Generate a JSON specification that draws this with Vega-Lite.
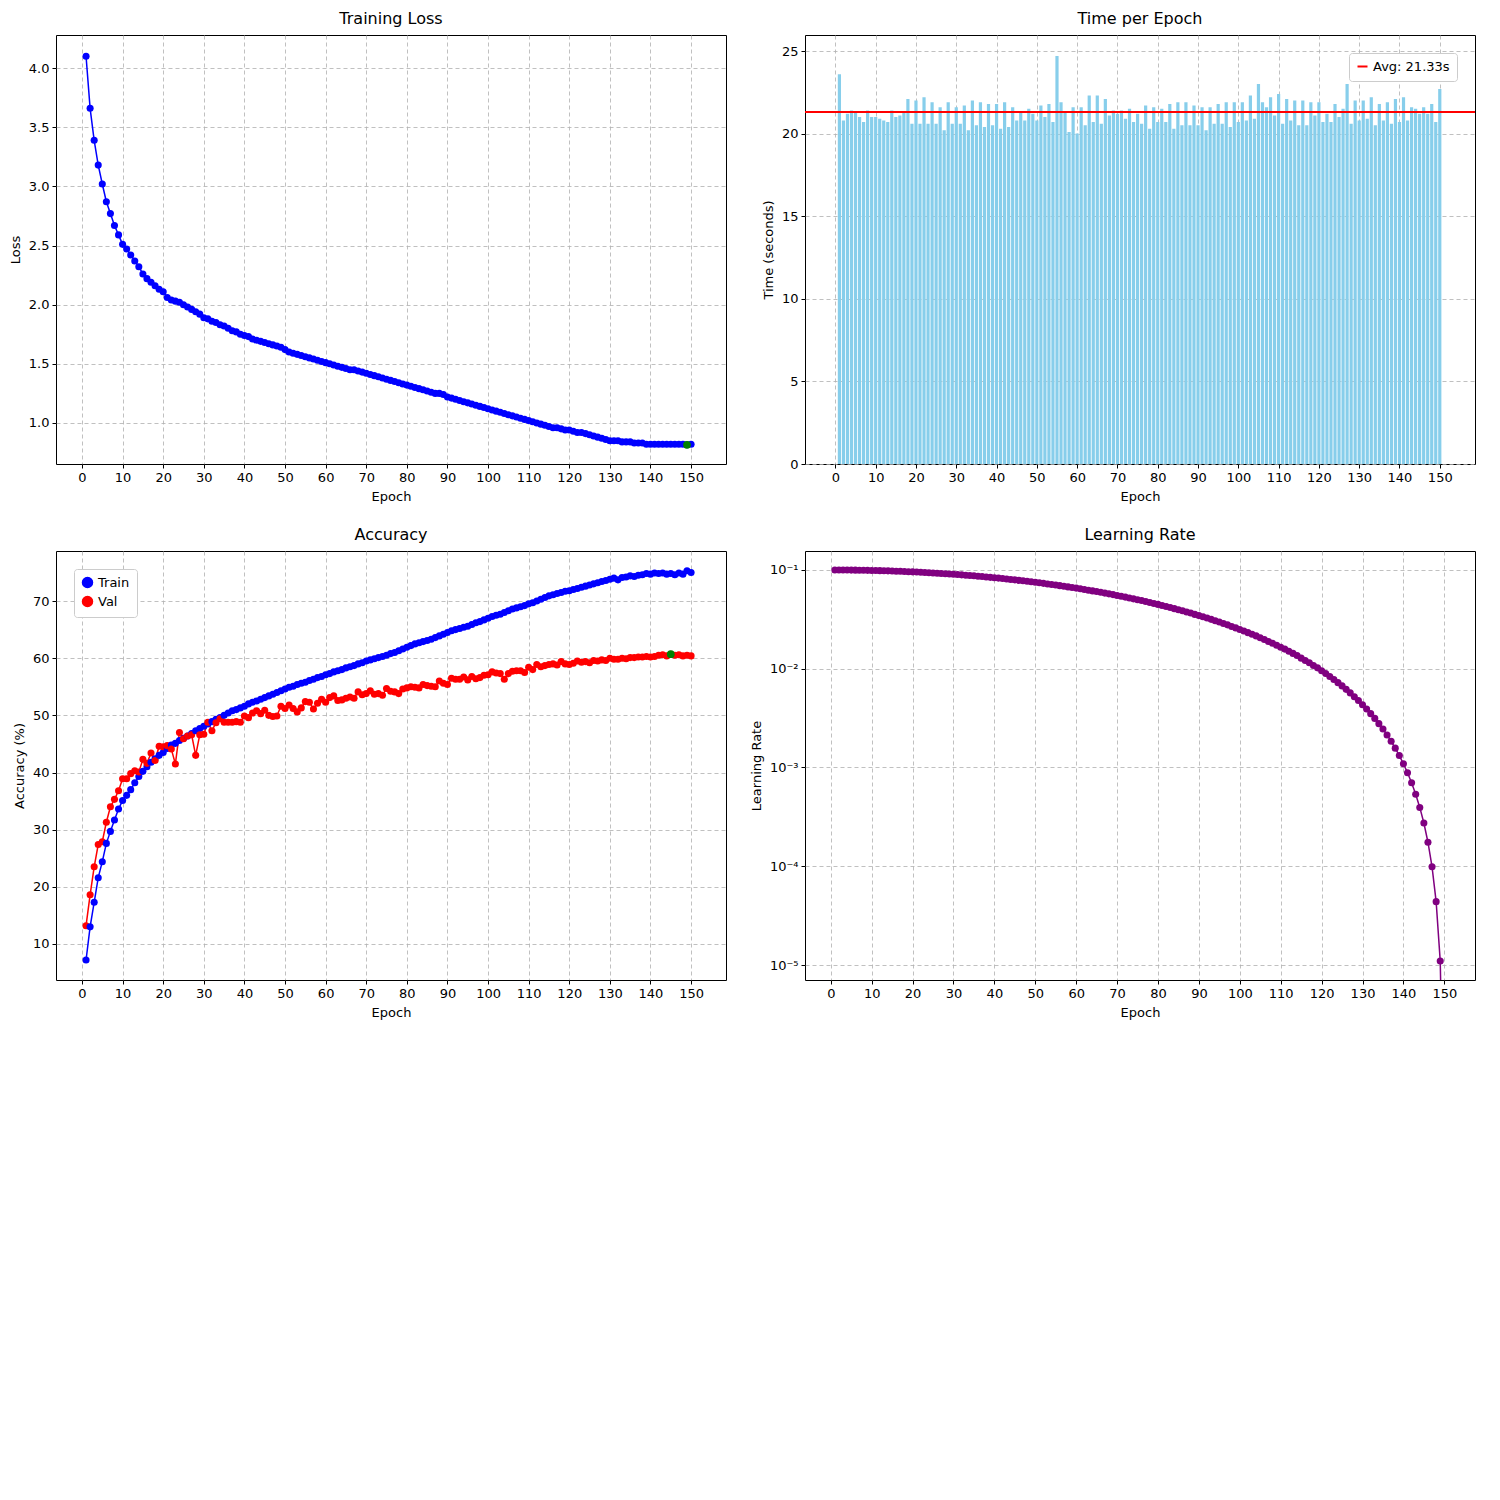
{
  "$schema": "https://vega.github.io/schema/vega-lite/v6.json",
  "background": "white",
  "padding": {"left": 8, "top": 10, "right": 10, "bottom": 5},
  "datasets": {
    "d": [
      {"e":1,"l":4.10,"t":23.6,"tr":7.2,"va":13.2,"lr":0.09999},
      {"e":2,"l":3.66,"t":20.8,"tr":13.0,"va":18.6,"lr":0.09996},
      {"e":3,"l":3.39,"t":21.2,"tr":17.3,"va":23.5,"lr":0.0999},
      {"e":4,"l":3.18,"t":21.4,"tr":21.6,"va":27.4,"lr":0.0998},
      {"e":5,"l":3.02,"t":21.3,"tr":24.4,"va":27.9,"lr":0.0997},
      {"e":6,"l":2.87,"t":21.0,"tr":27.6,"va":31.3,"lr":0.0996},
      {"e":7,"l":2.77,"t":20.7,"tr":29.7,"va":34.0,"lr":0.0995},
      {"e":8,"l":2.67,"t":21.4,"tr":31.7,"va":35.3,"lr":0.0993},
      {"e":9,"l":2.59,"t":21.0,"tr":33.6,"va":36.8,"lr":0.0991},
      {"e":10,"l":2.51,"t":21.0,"tr":35.1,"va":38.9,"lr":0.0989},
      {"e":11,"l":2.47,"t":20.9,"tr":36.0,"va":38.9,"lr":0.0987},
      {"e":12,"l":2.42,"t":20.8,"tr":37.0,"va":39.8,"lr":0.0984},
      {"e":13,"l":2.37,"t":20.7,"tr":38.2,"va":40.3,"lr":0.0982},
      {"e":14,"l":2.32,"t":21.4,"tr":39.3,"va":40.1,"lr":0.0979},
      {"e":15,"l":2.26,"t":21.0,"tr":40.2,"va":42.3,"lr":0.0976},
      {"e":16,"l":2.22,"t":21.1,"tr":41.0,"va":41.6,"lr":0.0972},
      {"e":17,"l":2.19,"t":21.3,"tr":41.8,"va":43.4,"lr":0.0969},
      {"e":18,"l":2.16,"t":22.1,"tr":42.4,"va":42.1,"lr":0.0965},
      {"e":19,"l":2.13,"t":20.6,"tr":43.0,"va":44.6,"lr":0.0961},
      {"e":20,"l":2.11,"t":22.0,"tr":43.5,"va":44.5,"lr":0.0957},
      {"e":21,"l":2.06,"t":20.6,"tr":44.2,"va":44.7,"lr":0.0952},
      {"e":22,"l":2.04,"t":22.2,"tr":44.8,"va":44.1,"lr":0.0948},
      {"e":23,"l":2.03,"t":20.6,"tr":45.1,"va":41.5,"lr":0.0943},
      {"e":24,"l":2.02,"t":21.9,"tr":45.6,"va":47.0,"lr":0.0938},
      {"e":25,"l":2.00,"t":20.6,"tr":46.0,"va":45.9,"lr":0.0933},
      {"e":26,"l":1.98,"t":21.6,"tr":46.4,"va":46.4,"lr":0.0928},
      {"e":27,"l":1.96,"t":20.2,"tr":46.8,"va":46.6,"lr":0.0922},
      {"e":28,"l":1.94,"t":21.9,"tr":47.3,"va":43.0,"lr":0.0916},
      {"e":29,"l":1.92,"t":20.6,"tr":47.7,"va":46.6,"lr":0.0911},
      {"e":30,"l":1.89,"t":21.6,"tr":48.1,"va":46.7,"lr":0.0905},
      {"e":31,"l":1.88,"t":20.6,"tr":48.5,"va":48.8,"lr":0.0898},
      {"e":32,"l":1.86,"t":21.7,"tr":48.9,"va":47.3,"lr":0.0892},
      {"e":33,"l":1.85,"t":20.2,"tr":49.3,"va":48.7,"lr":0.0885},
      {"e":34,"l":1.83,"t":22.0,"tr":49.6,"va":49.4,"lr":0.0879},
      {"e":35,"l":1.82,"t":20.5,"tr":50.0,"va":48.8,"lr":0.0872},
      {"e":36,"l":1.80,"t":21.9,"tr":50.4,"va":48.8,"lr":0.0864},
      {"e":37,"l":1.78,"t":20.4,"tr":50.8,"va":48.8,"lr":0.0857},
      {"e":38,"l":1.77,"t":21.8,"tr":51.0,"va":48.9,"lr":0.0850},
      {"e":39,"l":1.75,"t":20.5,"tr":51.3,"va":48.8,"lr":0.0842},
      {"e":40,"l":1.74,"t":21.8,"tr":51.6,"va":49.9,"lr":0.0835},
      {"e":41,"l":1.73,"t":20.3,"tr":52.0,"va":49.6,"lr":0.0827},
      {"e":42,"l":1.71,"t":21.9,"tr":52.3,"va":50.4,"lr":0.0819},
      {"e":43,"l":1.70,"t":20.4,"tr":52.5,"va":50.8,"lr":0.0811},
      {"e":44,"l":1.69,"t":21.6,"tr":52.8,"va":50.3,"lr":0.0802},
      {"e":45,"l":1.68,"t":20.8,"tr":53.1,"va":50.9,"lr":0.0794},
      {"e":46,"l":1.67,"t":21.3,"tr":53.4,"va":50.0,"lr":0.0785},
      {"e":47,"l":1.66,"t":20.8,"tr":53.7,"va":49.8,"lr":0.0777},
      {"e":48,"l":1.65,"t":21.5,"tr":54.0,"va":49.9,"lr":0.0768},
      {"e":49,"l":1.64,"t":21.2,"tr":54.3,"va":51.6,"lr":0.0759},
      {"e":50,"l":1.62,"t":20.8,"tr":54.6,"va":51.2,"lr":0.0750},
      {"e":51,"l":1.60,"t":21.7,"tr":54.9,"va":51.8,"lr":0.0741},
      {"e":52,"l":1.59,"t":21.0,"tr":55.1,"va":51.2,"lr":0.0732},
      {"e":53,"l":1.58,"t":21.8,"tr":55.4,"va":50.6,"lr":0.0722},
      {"e":54,"l":1.57,"t":20.7,"tr":55.6,"va":51.3,"lr":0.0713},
      {"e":55,"l":1.56,"t":24.7,"tr":55.8,"va":52.4,"lr":0.0703},
      {"e":56,"l":1.55,"t":21.9,"tr":56.1,"va":52.3,"lr":0.0694},
      {"e":57,"l":1.54,"t":21.3,"tr":56.3,"va":51.1,"lr":0.0684},
      {"e":58,"l":1.53,"t":20.1,"tr":56.6,"va":52.1,"lr":0.0674},
      {"e":59,"l":1.52,"t":21.6,"tr":56.8,"va":52.8,"lr":0.0664},
      {"e":60,"l":1.51,"t":20.0,"tr":57.1,"va":52.3,"lr":0.0655},
      {"e":61,"l":1.50,"t":21.6,"tr":57.3,"va":53.1,"lr":0.0645},
      {"e":62,"l":1.49,"t":20.5,"tr":57.6,"va":53.4,"lr":0.0634},
      {"e":63,"l":1.48,"t":22.3,"tr":57.8,"va":52.6,"lr":0.0624},
      {"e":64,"l":1.47,"t":20.7,"tr":58.0,"va":52.7,"lr":0.0614},
      {"e":65,"l":1.46,"t":22.3,"tr":58.3,"va":53.0,"lr":0.0604},
      {"e":66,"l":1.45,"t":20.6,"tr":58.5,"va":53.2,"lr":0.0594},
      {"e":67,"l":1.45,"t":22.1,"tr":58.7,"va":53.0,"lr":0.0583},
      {"e":68,"l":1.44,"t":21.1,"tr":59.0,"va":54.1,"lr":0.0573},
      {"e":69,"l":1.43,"t":21.4,"tr":59.2,"va":53.6,"lr":0.0563},
      {"e":70,"l":1.42,"t":21.2,"tr":59.5,"va":53.8,"lr":0.0552},
      {"e":71,"l":1.41,"t":21.4,"tr":59.7,"va":54.3,"lr":0.0542},
      {"e":72,"l":1.40,"t":20.9,"tr":59.9,"va":53.7,"lr":0.0531},
      {"e":73,"l":1.39,"t":21.5,"tr":60.1,"va":53.8,"lr":0.0521},
      {"e":74,"l":1.38,"t":20.7,"tr":60.3,"va":53.5,"lr":0.0510},
      {"e":75,"l":1.37,"t":21.2,"tr":60.5,"va":54.7,"lr":0.0500},
      {"e":76,"l":1.36,"t":20.6,"tr":60.8,"va":54.2,"lr":0.0490},
      {"e":77,"l":1.35,"t":21.7,"tr":61.0,"va":54.1,"lr":0.0479},
      {"e":78,"l":1.34,"t":20.3,"tr":61.3,"va":53.8,"lr":0.0469},
      {"e":79,"l":1.33,"t":21.6,"tr":61.6,"va":54.6,"lr":0.0458},
      {"e":80,"l":1.32,"t":20.7,"tr":61.9,"va":54.8,"lr":0.0448},
      {"e":81,"l":1.31,"t":21.5,"tr":62.2,"va":55.0,"lr":0.0437},
      {"e":82,"l":1.30,"t":20.7,"tr":62.5,"va":54.9,"lr":0.0427},
      {"e":83,"l":1.29,"t":21.8,"tr":62.7,"va":54.8,"lr":0.0417},
      {"e":84,"l":1.28,"t":20.3,"tr":62.9,"va":55.4,"lr":0.0406},
      {"e":85,"l":1.27,"t":21.9,"tr":63.1,"va":55.2,"lr":0.0396},
      {"e":86,"l":1.26,"t":20.5,"tr":63.3,"va":55.1,"lr":0.0386},
      {"e":87,"l":1.25,"t":21.9,"tr":63.6,"va":55.0,"lr":0.0376},
      {"e":88,"l":1.25,"t":20.5,"tr":63.9,"va":56.0,"lr":0.0366},
      {"e":89,"l":1.24,"t":21.7,"tr":64.2,"va":55.6,"lr":0.0355},
      {"e":90,"l":1.22,"t":20.5,"tr":64.5,"va":55.4,"lr":0.0345},
      {"e":91,"l":1.21,"t":21.6,"tr":64.8,"va":56.5,"lr":0.0336},
      {"e":92,"l":1.20,"t":20.2,"tr":65.0,"va":56.3,"lr":0.0326},
      {"e":93,"l":1.19,"t":21.6,"tr":65.2,"va":56.3,"lr":0.0316},
      {"e":94,"l":1.18,"t":20.6,"tr":65.4,"va":56.7,"lr":0.0306},
      {"e":95,"l":1.17,"t":21.8,"tr":65.6,"va":56.2,"lr":0.0297},
      {"e":96,"l":1.16,"t":20.6,"tr":65.9,"va":56.8,"lr":0.0287},
      {"e":97,"l":1.15,"t":21.9,"tr":66.2,"va":56.4,"lr":0.0278},
      {"e":98,"l":1.14,"t":20.4,"tr":66.4,"va":56.6,"lr":0.0268},
      {"e":99,"l":1.13,"t":21.9,"tr":66.7,"va":57.0,"lr":0.0259},
      {"e":100,"l":1.12,"t":20.7,"tr":67.0,"va":57.1,"lr":0.0250},
      {"e":101,"l":1.11,"t":21.9,"tr":67.3,"va":57.6,"lr":0.0241},
      {"e":102,"l":1.10,"t":20.8,"tr":67.5,"va":57.4,"lr":0.0232},
      {"e":103,"l":1.09,"t":22.3,"tr":67.7,"va":57.3,"lr":0.0223},
      {"e":104,"l":1.08,"t":20.9,"tr":68.0,"va":56.3,"lr":0.0215},
      {"e":105,"l":1.07,"t":23.0,"tr":68.3,"va":57.3,"lr":0.0206},
      {"e":106,"l":1.06,"t":21.9,"tr":68.6,"va":57.7,"lr":0.0198},
      {"e":107,"l":1.05,"t":21.6,"tr":68.8,"va":57.8,"lr":0.0189},
      {"e":108,"l":1.04,"t":22.2,"tr":69.0,"va":57.8,"lr":0.0181},
      {"e":109,"l":1.03,"t":21.1,"tr":69.2,"va":57.5,"lr":0.0173},
      {"e":110,"l":1.02,"t":22.4,"tr":69.5,"va":58.4,"lr":0.0165},
      {"e":111,"l":1.01,"t":20.6,"tr":69.7,"va":58.0,"lr":0.0158},
      {"e":112,"l":1.00,"t":22.1,"tr":70.0,"va":58.9,"lr":0.0150},
      {"e":113,"l":0.99,"t":20.8,"tr":70.3,"va":58.5,"lr":0.0143},
      {"e":114,"l":0.98,"t":22.0,"tr":70.6,"va":58.7,"lr":0.0136},
      {"e":115,"l":0.97,"t":20.5,"tr":70.9,"va":58.9,"lr":0.0128},
      {"e":116,"l":0.96,"t":22.0,"tr":71.1,"va":59.0,"lr":0.0121},
      {"e":117,"l":0.96,"t":20.5,"tr":71.3,"va":58.8,"lr":0.0115},
      {"e":118,"l":0.95,"t":21.9,"tr":71.5,"va":59.4,"lr":0.0108},
      {"e":119,"l":0.94,"t":21.1,"tr":71.7,"va":59.0,"lr":0.0102},
      {"e":120,"l":0.94,"t":21.9,"tr":71.8,"va":58.9,"lr":0.00955},
      {"e":121,"l":0.93,"t":20.7,"tr":72.0,"va":59.1,"lr":0.00894},
      {"e":122,"l":0.92,"t":21.2,"tr":72.2,"va":59.5,"lr":0.00835},
      {"e":123,"l":0.92,"t":20.7,"tr":72.4,"va":59.3,"lr":0.00778},
      {"e":124,"l":0.91,"t":21.8,"tr":72.6,"va":59.4,"lr":0.00723},
      {"e":125,"l":0.90,"t":21.0,"tr":72.8,"va":59.2,"lr":0.00670},
      {"e":126,"l":0.89,"t":21.5,"tr":73.0,"va":59.6,"lr":0.00618},
      {"e":127,"l":0.88,"t":23.0,"tr":73.2,"va":59.5,"lr":0.00569},
      {"e":128,"l":0.87,"t":20.6,"tr":73.4,"va":59.7,"lr":0.00521},
      {"e":129,"l":0.86,"t":22.0,"tr":73.6,"va":59.6,"lr":0.00476},
      {"e":130,"l":0.85,"t":20.8,"tr":73.8,"va":60.0,"lr":0.00432},
      {"e":131,"l":0.85,"t":22.0,"tr":74.0,"va":59.8,"lr":0.00391},
      {"e":132,"l":0.85,"t":20.9,"tr":73.7,"va":59.8,"lr":0.00351},
      {"e":133,"l":0.84,"t":22.2,"tr":74.1,"va":60.0,"lr":0.00314},
      {"e":134,"l":0.84,"t":20.5,"tr":74.2,"va":59.9,"lr":0.00278},
      {"e":135,"l":0.84,"t":21.8,"tr":74.4,"va":60.1,"lr":0.00245},
      {"e":136,"l":0.83,"t":20.8,"tr":74.3,"va":60.1,"lr":0.00213},
      {"e":137,"l":0.83,"t":21.9,"tr":74.5,"va":60.2,"lr":0.00184},
      {"e":138,"l":0.83,"t":20.6,"tr":74.6,"va":60.2,"lr":0.00157},
      {"e":139,"l":0.82,"t":22.1,"tr":74.8,"va":60.3,"lr":0.00132},
      {"e":140,"l":0.82,"t":20.7,"tr":74.7,"va":60.2,"lr":0.00109},
      {"e":141,"l":0.82,"t":22.2,"tr":74.9,"va":60.3,"lr":0.000886},
      {"e":142,"l":0.82,"t":20.8,"tr":74.8,"va":60.5,"lr":0.000700},
      {"e":143,"l":0.82,"t":21.6,"tr":74.9,"va":60.6,"lr":0.000536},
      {"e":144,"l":0.82,"t":21.5,"tr":74.7,"va":60.4,"lr":0.000394},
      {"e":145,"l":0.82,"t":21.2,"tr":74.8,"va":60.7,"lr":0.000274},
      {"e":146,"l":0.82,"t":21.6,"tr":74.6,"va":60.5,"lr":0.000175},
      {"e":147,"l":0.82,"t":21.2,"tr":74.9,"va":60.6,"lr":0.0000987},
      {"e":148,"l":0.82,"t":21.8,"tr":74.7,"va":60.4,"lr":0.0000438},
      {"e":149,"l":0.815,"t":20.7,"tr":75.3,"va":60.5,"lr":0.000011},
      {"e":150,"l":0.82,"t":22.7,"tr":75.0,"va":60.4,"lr":0.0000001}
    ]
  },
  "columns": 2,
  "spacing": {"row": 22, "column": 22},
  "resolve": {"scale": {"color": "independent"}, "legend": {"color": "independent"}},
  "concat": [
    {
      "title": "Training Loss",
      "width": 670, "height": 429,
      "data": {"name": "d"},
      "layer": [
        {
          "mark": {"type": "line", "color": "blue", "strokeWidth": 1.5, "point": {"filled": true, "size": 50, "color": "blue"}},
          "encoding": {
            "x": {"field": "e", "type": "quantitative", "title": "Epoch", "scale": {"domain": [-6.4, 158.6], "nice": false}},
            "y": {"field": "l", "type": "quantitative", "title": "Loss", "scale": {"domain": [0.653, 4.28], "nice": false, "zero": false}, "axis": {"values": [1, 1.5, 2, 2.5, 3, 3.5, 4], "format": ".1f"}}
          }
        },
        {
          "transform": [{"filter": "datum.e == 149"}],
          "mark": {"type": "point", "filled": true, "size": 60, "color": "green", "opacity": 1},
          "encoding": {"x": {"field": "e", "type": "quantitative"}, "y": {"field": "l", "type": "quantitative"}}
        }
      ]
    },
    {
      "title": "Time per Epoch",
      "width": 670, "height": 429,
      "data": {"name": "d"},
      "layer": [
        {
          "mark": {"type": "bar", "color": "#87ceeb", "width": 3.2},
          "encoding": {
            "x": {"field": "e", "type": "quantitative", "title": "Epoch", "scale": {"domain": [-6.3, 157.5], "nice": false}},
            "y": {"field": "t", "type": "quantitative", "title": "Time (seconds)", "scale": {"domain": [0, 25.97], "nice": false}, "axis": {"values": [0, 5, 10, 15, 20, 25]}}
          }
        },
        {
          "mark": {"type": "rule", "strokeWidth": 1.5},
          "encoding": {
            "y": {"datum": 21.33},
            "color": {"datum": "Avg: 21.33s", "scale": {"range": ["red"]}, "legend": {"title": null, "orient": "top-right", "symbolType": "stroke", "symbolStrokeWidth": 2, "fillColor": "white", "strokeColor": "#cccccc", "padding": 7, "cornerRadius": 3, "labelFontSize": 13}}
          }
        }
      ]
    },
    {
      "title": "Accuracy",
      "width": 670, "height": 429,
      "data": {"name": "d"},
      "layer": [
        {
          "transform": [{"fold": ["tr", "va"], "as": ["k", "v"]}, {"calculate": "datum.k == 'tr' ? 'Train' : 'Val'", "as": "s"}],
          "mark": {"type": "line", "strokeWidth": 1.5, "point": {"filled": true, "size": 50}},
          "encoding": {
            "x": {"field": "e", "type": "quantitative", "title": "Epoch", "scale": {"domain": [-6.4, 158.6], "nice": false}},
            "y": {"field": "v", "type": "quantitative", "title": "Accuracy (%)", "scale": {"domain": [3.7, 78.75], "nice": false}, "axis": {"values": [10, 20, 30, 40, 50, 60, 70]}},
            "color": {"field": "s", "type": "nominal", "scale": {"domain": ["Train", "Val"], "range": ["blue", "red"]}, "legend": {"title": null, "orient": "top-left", "symbolType": "circle", "fillColor": "white", "strokeColor": "#cccccc", "padding": 7, "cornerRadius": 3, "labelFontSize": 13}}
          }
        },
        {
          "transform": [{"filter": "datum.e == 145"}],
          "mark": {"type": "point", "filled": true, "size": 60, "color": "green", "opacity": 1},
          "encoding": {"x": {"field": "e", "type": "quantitative"}, "y": {"field": "va", "type": "quantitative"}}
        }
      ]
    },
    {
      "title": "Learning Rate",
      "width": 670, "height": 429,
      "data": {"name": "d"},
      "mark": {"type": "line", "color": "purple", "strokeWidth": 1.5, "clip": true, "point": {"filled": true, "size": 50, "color": "purple"}},
      "encoding": {
        "x": {"field": "e", "type": "quantitative", "title": "Epoch", "scale": {"domain": [-6.3, 157.5], "nice": false}},
        "y": {"field": "lr", "type": "quantitative", "title": "Learning Rate", "scale": {"type": "log", "domain": [0.00000705, 0.1556], "nice": false}, "axis": {"values": [0.00001, 0.0001, 0.001, 0.01, 0.1], "labelExpr": "['10⁻⁵','10⁻⁴','10⁻³','10⁻²','10⁻¹'][round(log(datum.value)/LN10)+5]"}}
      }
    }
  ],
  "config": {
    "font": "DejaVu Sans",
    "view": {"stroke": "black", "strokeWidth": 1},
    "title": {"fontSize": 16, "fontWeight": "normal", "offset": 8},
    "axis": {
      "labelFontSize": 13, "titleFontSize": 13, "titleFontWeight": "normal",
      "domain": false, "tickColor": "black", "tickSize": 4, "labelColor": "black", "titleColor": "black",
      "gridColor": "#b0b0b0", "gridDash": [4, 3], "gridOpacity": 0.8,
      "labelPadding": 3, "titlePadding": 6
    },
    "axisX": {"values": [1, 11, 21, 31, 41, 51, 61, 71, 81, 91, 101, 111, 121, 131, 141]}
  }
}
